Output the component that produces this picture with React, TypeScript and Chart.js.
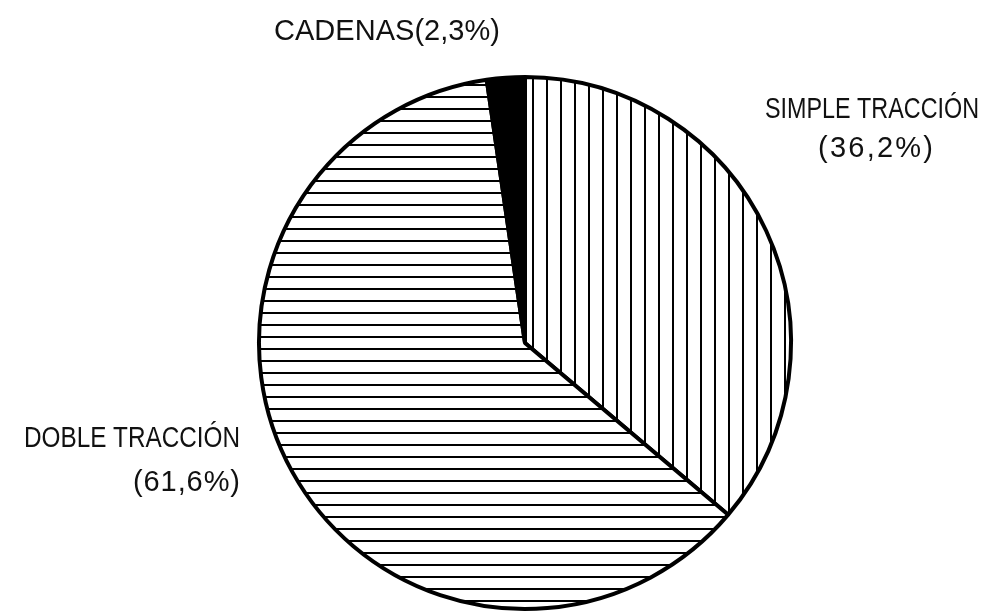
import React, { useEffect, useRef } from "react";
import { Chart, registerables } from "chart.js";

Chart.register(...registerables);

// Data
const categories = ["SIMPLE TRACCIÓN", "DOBLE TRACCIÓN", "CADENAS"];
const shares = [36.2, 61.6, 2.3];

// Label layout: [text, left x, baseline y, target width]
const labelTexts = ["CADENAS(2,3%)", "SIMPLE TRACCIÓN", "(36,2%)", "DOBLE TRACCIÓN", "(61,6%)"];
const labelX = [274, 765, 818, 24, 133];
const labelY = [40, 118, 157, 447, 491];
const labelW = [226, 214, 115, 216, 107];

function makeLinePattern(vertical: boolean, period: number, thick: number) {
  const c = document.createElement("canvas");
  c.width = vertical ? period : 4;
  c.height = vertical ? 4 : period;
  const g = c.getContext("2d")!;
  g.fillStyle = "#ffffff";
  g.fillRect(0, 0, c.width, c.height);
  g.fillStyle = "#000000";
  if (vertical) g.fillRect(0, 0, thick, c.height);
  else g.fillRect(0, 0, c.width, thick);
  return g.createPattern(c, "repeat")!;
}

const labelPlugin = {
  id: "fixedLabels",
  afterDraw(chart: any) {
    const ctx = chart.ctx as CanvasRenderingContext2D;
    ctx.save();
    ctx.fillStyle = "#111";
    ctx.textBaseline = "alphabetic";
    ctx.textAlign = "left";
    ctx.font = "29px 'Liberation Sans Narrow', 'Liberation Sans', Arial, sans-serif";
    labelTexts.forEach((t, i) => {
      (ctx as any).letterSpacing = "0px";
      const w = ctx.measureText(t).width;
      const n = Array.from(t).length;
      const extra = (labelW[i] - w) / Math.max(n - 1, 1);
      if (extra >= 0) {
        (ctx as any).letterSpacing = extra.toFixed(2) + "px";
        ctx.fillText(t, labelX[i], labelY[i]);
      } else {
        ctx.save();
        ctx.translate(labelX[i], labelY[i]);
        ctx.scale(labelW[i] / w, 1);
        ctx.fillText(t, 0, 0);
        ctx.restore();
      }
    });
    ctx.restore();
  },
};

export default function App() {
  const ref = useRef<HTMLCanvasElement | null>(null);
  useEffect(() => {
    if (!ref.current) return;
    const vPat = makeLinePattern(true, 14, 2);
    const hPat = makeLinePattern(false, 12, 2);
    const chart = new Chart(ref.current, {
      type: "pie",
      data: {
        labels: categories,
        datasets: [
          {
            data: shares,
            backgroundColor: [vPat as any, hPat as any, "#000000"],
            borderColor: "#000000",
            borderWidth: 4,
          },
        ],
      },
      options: {
        responsive: false,
        animation: false,
        layout: { padding: { left: 257, top: 75, right: 205, bottom: 3 } },
        plugins: {
          legend: { display: false },
          tooltip: { enabled: false },
        },
      },
      plugins: [labelPlugin],
    });
    return () => chart.destroy();
  }, []);
  return (
    <div style={{ position: "fixed", left: 0, top: 0, width: 998, height: 614, background: "#ffffff" }}>
      <canvas ref={ref} width={998} height={614} />
    </div>
  );
}
